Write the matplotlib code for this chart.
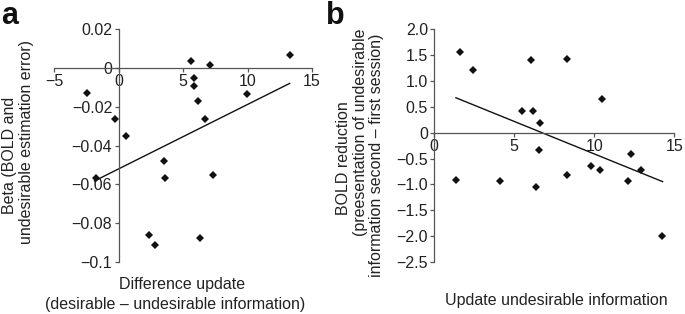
import matplotlib
matplotlib.use("Agg")
import matplotlib.pyplot as plt
import numpy as np

plt.rcParams['font.family'] = ['Liberation Sans', 'DejaVu Sans']

# panel a: difference update vs beta
a_x = [-2.41, -0.26, 0.60, -1.76, 3.54, 3.57, 2.38, 2.85, 5.59, 7.06,
       5.82, 5.87, 6.16, 6.68, 7.32, 6.29, 9.96, 13.30]
a_y = [-0.0126, -0.0262, -0.0348, -0.0565, -0.0478, -0.0568, -0.0862, -0.0912,
       0.0036, 0.0014, -0.0053, -0.0091, -0.0169, -0.0262, -0.0551, -0.0874,
       -0.0134, 0.0067]
a_fit_x = [-1.86, 13.27]
a_fit_y = [-0.0582, -0.0079]
a_xticks = [-5, 0, 5, 10, 15]
a_yticks = [0.02, 0, -0.02, -0.04, -0.06, -0.08, -0.1]
a_yticklabels = ['0.02', '0', '\u22120.02', '\u22120.04', '\u22120.06', '\u22120.08', '\u22120.1']

# panel b: update undesirable vs BOLD reduction
b_x = [1.60, 2.44, 1.38, 4.13, 5.46, 6.04, 6.15, 6.63, 6.54, 6.35,
       8.31, 8.31, 9.77, 10.33, 10.50, 12.13, 12.29, 12.94, 14.21]
b_y = [1.56, 1.22, -0.91, -0.93, 0.42, 1.41, 0.42, 0.18, -0.34, -1.04,
       1.43, -0.82, -0.65, -0.72, 0.65, -0.93, -0.42, -0.72, -1.99]
b_fit_x = [1.35, 14.27]
b_fit_y = [0.676, -0.946]
b_xticks = [0, 5, 10, 15]
b_yticks = [2.0, 1.5, 1.0, 0.5, 0, -0.5, -1.0, -1.5, -2.0, -2.5]
b_yticklabels = ['2.0', '1.5', '1.0', '0.5', '0', '\u22120.5', '\u22121.0',
                 '\u22121.5', '\u22122.0', '\u22122.5']

W, H = 685, 314
fig = plt.figure(figsize=(W / 100, H / 100), dpi=100)

txt = '#222222'
spine = '#555555'


def setup(ax, xlim, ylim, xticks, yticks, yticklabels):
    ax.set_xlim(*xlim)
    ax.set_ylim(*ylim)
    for s in ['top', 'right']:
        ax.spines[s].set_visible(False)
    ax.spines['left'].set_position(('data', 0))
    ax.spines['bottom'].set_position(('data', 0))
    for s in ['left', 'bottom']:
        ax.spines[s].set_color(spine)
        ax.spines[s].set_linewidth(0.9)
    ax.set_xticks(xticks)
    ax.set_xticklabels([str(t).replace('-', '\u2212') for t in xticks])
    ax.set_yticks(yticks)
    ax.set_yticklabels(yticklabels)
    ax.tick_params(direction='out', length=3, width=0.9, color=spine,
                   labelsize=11.5, labelcolor=txt, pad=1.5)
    ax.patch.set_visible(False)


# axes positions in pixels: left, right, top, bottom
ax_a = fig.add_axes([54 / W, 1 - 262 / H, (312 - 54) / W, (262 - 29.3) / H])
setup(ax_a, (-5, 15), (-0.1, 0.02), a_xticks, a_yticks, a_yticklabels)
ax_a.plot(a_fit_x, a_fit_y, color='#111111', lw=1.0)
ax_a.plot(a_x, a_y, 'D', color='#111111', ms=3.6, mew=0)

ax_b = fig.add_axes([434.3 / W, 1 - 262 / H, (674.3 - 434.3) / W, (262 - 29.3) / H])
setup(ax_b, (0, 15), (-2.5, 2.0), b_xticks, b_yticks, b_yticklabels)
ax_b.plot(b_fit_x, b_fit_y, color='#111111', lw=1.0)
ax_b.plot(b_x, b_y, 'D', color='#111111', ms=3.6, mew=0)


def ftext(x, y, s, **kw):
    fig.text(x / W, 1 - y / H, s, ha='center', va='center', color=txt,
             fontsize=11.5, **kw)


# axis labels
ftext(10, 155, 'Beta (BOLD and', rotation=90)
ftext(27, 142, 'undesirable estimation error)', rotation=90)
ftext(182, 285, 'Difference update')
ftext(175, 305, '(desirable \u2013 undesirable information)')

ftext(343, 158, 'BOLD reduction', rotation=90)
ftext(360, 132, '(preesentation of undesirable', rotation=90)
ftext(377, 155, 'information second \u2013 first session)', rotation=90)
ftext(556, 300, 'Update undesirable information')

# panel letters
fig.text(1 / W, 1 - 1 / H, 'a', ha='left', va='top', fontsize=22,
         fontweight='bold', color='#111111')
fig.text(326 / W, 1 - 1 / H, 'b', ha='left', va='top', fontsize=22,
         fontweight='bold', color='#111111')

fig.savefig('out.png', dpi=100)
